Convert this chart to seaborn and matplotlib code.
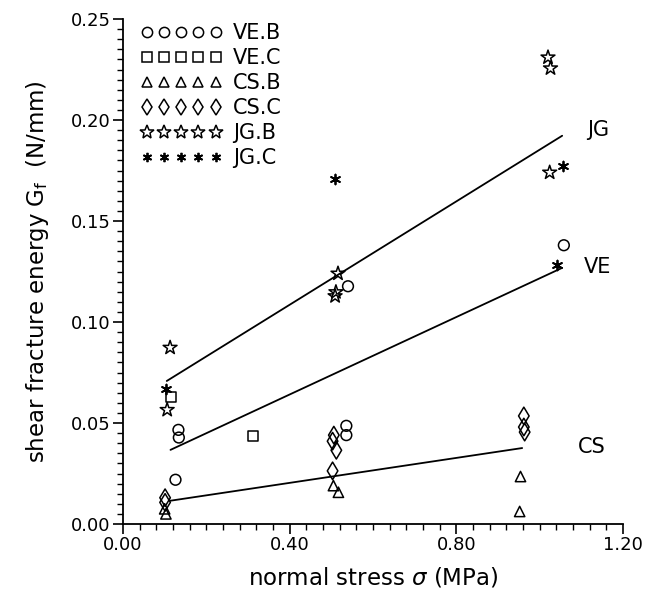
import matplotlib
matplotlib.use("Agg")
import matplotlib.pyplot as plt
from matplotlib.lines import Line2D
from matplotlib.ticker import MultipleLocator
import seaborn as sns

# ---- data ----
ve_b_x = [0.133, 0.134, 0.126, 0.540, 0.536, 0.536, 1.058]
ve_b_y = [0.0466, 0.0428, 0.0219, 0.1177, 0.0486, 0.0440, 0.138]

ve_c_x = [0.115, 0.312]
ve_c_y = [0.063, 0.0435]

cs_b_x = [0.100, 0.103, 0.505, 0.517, 0.954, 0.952]
cs_b_y = [0.0075, 0.0050, 0.0190, 0.0157, 0.0235, 0.0062]

cs_c_x = [0.101, 0.101, 0.506, 0.503, 0.512, 0.503, 0.962, 0.962, 0.964]
cs_c_y = [0.0107, 0.0130, 0.0440, 0.0410, 0.0365, 0.0263, 0.0535, 0.0480, 0.0455]

jg_b_x = [0.113, 0.106, 0.516, 0.511, 0.509, 1.020, 1.026, 1.024]
jg_b_y = [0.0873, 0.0565, 0.124, 0.1148, 0.1128, 0.231, 0.2256, 0.174]

jg_c_x = [0.102, 0.508, 1.056, 1.041]
jg_c_y = [0.067, 0.171, 0.177, 0.128]

# fitted lines (end points)
jg_fit_x = [0.105, 1.054]
jg_fit_y = [0.0708, 0.1922]
ve_fit_x = [0.114, 1.054]
ve_fit_y = [0.0367, 0.1268]
cs_fit_x = [0.113, 0.958]
cs_fit_y = [0.0115, 0.0376]

fit_labels = ["JG", "VE", "CS"]
fit_label_x = [1.14, 1.14, 1.125]
fit_label_y = [0.195, 0.127, 0.038]

series_names = ["VE.B", "VE.C", "CS.B", "CS.C", "JG.B", "JG.C"]

x_ticks = [0.0, 0.4, 0.8, 1.2]
y_ticks = [0.00, 0.05, 0.10, 0.15, 0.20, 0.25]

# ---- plotting ----
sns.set_theme(style="ticks")
plt.rcParams['font.family'] = ['DejaVu Sans']
plt.rcParams['text.color'] = 'black'
plt.rcParams['axes.labelcolor'] = 'black'

fig = plt.figure(figsize=(6.59, 5.94), dpi=100)
ax = fig.add_axes([123/659, 1-524/594, 500/659, 505/594])

styles = [
    (ve_b_x, ve_b_y, "o", 60, True),
    (ve_c_x, ve_c_y, "s", 52, True),
    (cs_b_x, cs_b_y, "^", 55, True),
    (cs_c_x, cs_c_y, "d", 80, True),
    (jg_b_x, jg_b_y, "*", 110, True),
    (jg_c_x, jg_c_y, (6, 2, 0), 50, False),
]

for xs, ys, m, s, openm in styles:
    if openm:
        sns.scatterplot(x=xs, y=ys, marker=m, s=s, facecolor="none",
                        edgecolor="black", linewidth=1.1, ax=ax, zorder=3)
    else:
        sns.scatterplot(x=xs, y=ys, marker=m, s=s, color="black",
                        linewidth=1.3, ax=ax, zorder=3)

for fx, fy in [(jg_fit_x, jg_fit_y), (ve_fit_x, ve_fit_y), (cs_fit_x, cs_fit_y)]:
    sns.lineplot(x=fx, y=fy, color="black", linewidth=1.3, ax=ax)

for lab, lx, ly in zip(fit_labels, fit_label_x, fit_label_y):
    ax.text(lx, ly, lab, fontsize=15, ha="center", va="center", color="black")

ax.set_xlim(0, 1.2)
ax.set_ylim(0, 0.25)
ax.set_xticks(x_ticks)
ax.set_xticklabels([f"{v:.2f}" for v in x_ticks])
ax.set_yticks(y_ticks)
ax.set_yticklabels([f"{v:.2f}" for v in y_ticks])
ax.xaxis.set_minor_locator(MultipleLocator(0.04))
ax.yaxis.set_minor_locator(MultipleLocator(0.005))
ax.tick_params(axis="both", which="major", direction="out", length=7, width=1.2,
               labelsize=13, color="black", labelcolor="black", pad=2)
ax.tick_params(axis="both", which="minor", direction="out", length=4, width=1.0,
               color="black")
for sp in ["top", "right"]:
    ax.spines[sp].set_visible(False)
for sp in ["left", "bottom"]:
    ax.spines[sp].set_color("black")
    ax.spines[sp].set_linewidth(1.3)

ax.set_xlabel(r"normal stress $\sigma$ (MPa)", fontsize=16.5, labelpad=8, color="black")
ax.set_ylabel(r"shear fracture energy G$_\mathregular{f}$  (N/mm)", fontsize=16.5,
              labelpad=14, color="black")

handles = []
for (xs, ys, m, s, openm), name in zip(styles, series_names):
    ms = (s ** 0.5) * 0.95
    if openm:
        h = Line2D([], [], marker=m, linestyle="none", markerfacecolor="none",
                   markeredgecolor="black", markersize=ms, markeredgewidth=1.1)
    else:
        h = Line2D([], [], marker=m, linestyle="none", color="black",
                   markersize=ms, markeredgewidth=1.3)
    handles.append(h)

leg = ax.legend(handles, series_names, numpoints=5, loc="upper left",
                bbox_to_anchor=(0.035, 0.992), frameon=False, fontsize=15,
                handlelength=3.9, handletextpad=0.55, labelspacing=0.24,
                borderaxespad=0, borderpad=0)
for t in leg.get_texts():
    t.set_color("black")

fig.savefig("out.png", dpi=100)
